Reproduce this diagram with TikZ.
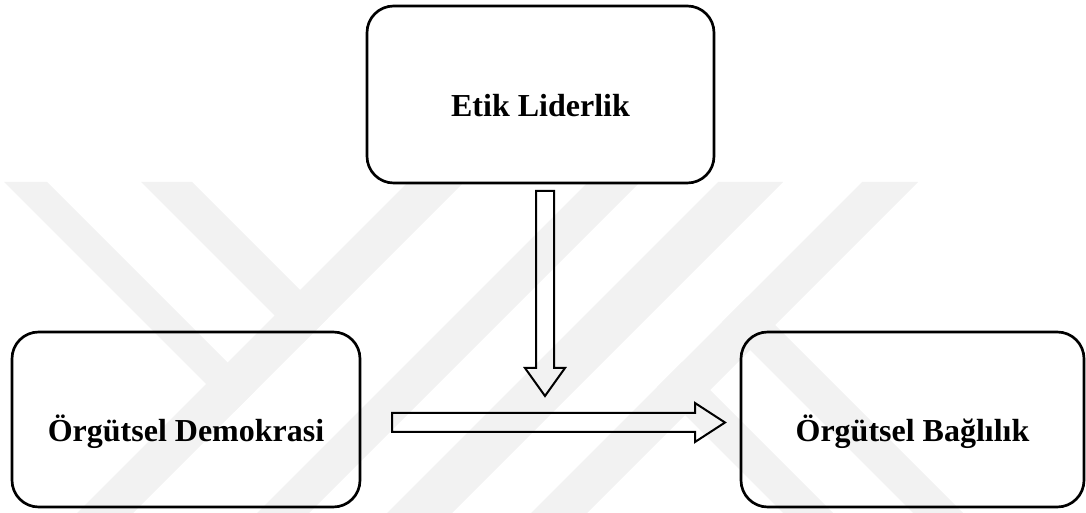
\documentclass[tikz,border=0pt]{standalone}
\usepackage{fontspec}
\setmainfont{Liberation Serif}
\begin{document}
\begin{tikzpicture}[x=0.75pt,y=-0.75pt,
  varbox/.style={draw,line width=2pt,rounded corners=20pt,
    text height=33pt,text depth=0pt,inner sep=0pt,
    font=\fontsize{24}{28}\selectfont\bfseries},
  blockarrow/.style={draw,line width=1.5pt,line join=miter},
  stripe/.style={fill=black!5,draw=none}]
\useasboundingbox (0,0) rectangle (1086,513);
% watermark stripes
\fill[stripe] (408,182) -- (464,182) -- (133,513) -- (77,513) -- cycle;
\fill[stripe] (588,182) -- (640,182) -- (309,513) -- (257,513) -- cycle;
\fill[stripe] (718,182) -- (783,182) -- (452,513) -- (387,513) -- cycle;
\fill[stripe] (862,182) -- (918,182) -- (587,513) -- (531,513) -- cycle;
\fill[stripe] (4,182) -- (47,182) -- (255.5,390.5) -- (234,412) -- cycle;
\fill[stripe] (141,182) -- (192,182) -- (328,318) -- (302.5,343.5) -- cycle;
\fill[stripe] (657,387) -- (682,362) -- (833,513) -- (783,513) -- cycle;
\fill[stripe] (722,322) -- (747,297) -- (963,513) -- (913,513) -- cycle;
% boxes
\node[varbox,minimum width=260.25pt,minimum height=132.75pt] (etik) at (540.5,94.5) {Etik Liderlik};
\node[varbox,minimum width=261pt,minimum height=131.25pt] (demokrasi) at (186,419.5) {Örgütsel Demokrasi};
\node[varbox,minimum width=257.25pt,minimum height=131.25pt] (baglilik) at (912.5,419.5) {Örgütsel Bağlılık};
% arrow ends
\coordinate (dTop) at (545,191);
\coordinate (dTip) at (545,396);
\coordinate (rStart) at (392,422.5);
\coordinate (rTip) at (725,422.5);
% hollow arrows
\draw[blockarrow] (dTop) ++(-9,0) -- ++(0,177) -- ++(-11,0) -- (dTip)
  -- ++(20,-28) -- ++(-11,0) -- ++(0,-177) -- cycle;
\draw[blockarrow] (rStart) ++(0,-9.5) -- ++(303,0) -- ++(0,-10) -- (rTip)
  -- ++(-30,19.5) -- ++(0,-10) -- ++(-303,0) -- cycle;
\end{tikzpicture}
\end{document}
